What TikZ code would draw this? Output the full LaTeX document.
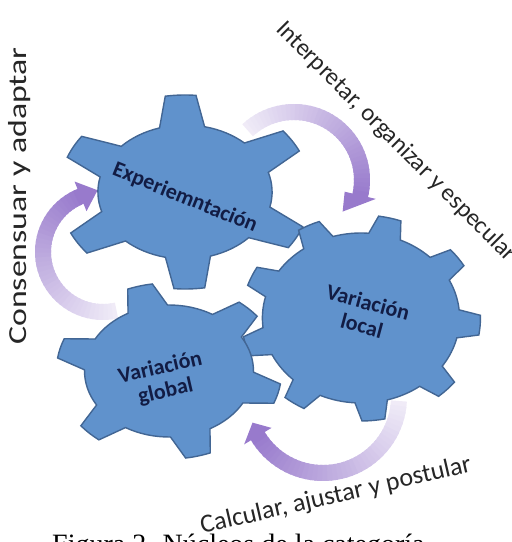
\documentclass[tikz,border=0pt]{standalone}
\usepackage{fontspec}
\setsansfont{Carlito}
\newfontfamily\captionfont{Liberation Serif}
\usepackage{xcolor}

\definecolor{gearblue}{RGB}{96,146,204}
\definecolor{gearedge}{RGB}{66,102,148}
\definecolor{geartext}{RGB}{18,28,68}
\definecolor{cycpurple}{RGB}{152,122,204}

% gear outline: teeth, inner radius, outer radius, base half-angle, tip half-angle
\newcommand{\gearpath}[5]{%
  ({-#4}:#2)
  \foreach \k in {1,...,#1}{%
    -- ({(\k-1)*360/#1-#5}:#3)
    arc[start angle={(\k-1)*360/#1-#5}, end angle={(\k-1)*360/#1+#5}, radius=#3]
    -- ({(\k-1)*360/#1+#4}:#2)
    arc[start angle={(\k-1)*360/#1+#4}, end angle={\k*360/#1-#4}, radius=#2]
  } -- cycle}

% curved arrow fading in: centre, radius, start, end, tip angle, tip radius
\newcommand{\cycarrow}[6]{%
  \foreach \i in {0,...,39}{%
    \pgfmathsetmacro{\cyca}{#3+(#4-#3)*\i/40}%
    \pgfmathsetmacro{\cycb}{#3+(#4-#3)*(\i+1.5)/40}%
    \pgfmathtruncatemacro{\cycp}{15+85*\i/39}%
    \draw[cycband, draw=cycpurple!\cycp!white, shift={(#1)}]
      (\cyca:#2) arc[start angle=\cyca, end angle=\cycb, radius=#2];
  }
  \fill[cycpurple, shift={(#1)}] ({#4}:{#2-16}) -- ({#5}:{#6}) -- ({#4}:{#2+16}) -- cycle;
}

\begin{document}
\begin{tikzpicture}[
    x=1pt, y=1pt,
    gear/.style={fill=gearblue, draw=gearedge, line width=1.4pt, line join=miter},
    geartitle/.style={font=\sffamily\bfseries\fontsize{22}{24}\selectfont, text=geartext, align=center},
    cyclabel/.style={font=\sffamily\fontsize{26}{28}\selectfont, text=black!85},
    cycband/.style={line width=16pt}
]
\useasboundingbox (0,0) rectangle (512,542);
\clip (0,0) rectangle (512,542);

% Gear centres
\coordinate (expc) at (185,350);
\coordinate (localc) at (361,224);
\coordinate (globalc) at (169,171);

% Cycle arrows
\coordinate (arrtop) at (294,362);
\coordinate (arrleft) at (103,290);
\coordinate (arrbot) at (323,145);
\cycarrow{arrtop}{68}{133}{-13}{-33}{58}
\cycarrow{arrleft}{60}{-77}{-248}{-265}{62}
\cycarrow{arrbot}{76}{-3}{-149}{-160}{75}

% Gears
\draw[gear, shift={(expc)}, xscale=1.3, rotate=92] \gearpath{6}{67}{97}{15}{7};
\draw[gear, shift={(localc)}, xscale=1.16, rotate=-4] \gearpath{9}{85}{103}{9.5}{5.5};
\draw[gear, shift={(globalc)}, xscale=1.28, rotate=105] \gearpath{6}{66}{88}{14}{6.5};

% Gear titles
\node[geartitle, rotate=-22] (exptext) at (185,344) {Experiemntación};
\node[geartitle, rotate=-15] (localtext) at (365,228) {Variación\\local};
\node[geartitle, rotate=13] (globaltext) at (163,162) {Variación\\global};

% Labels
\node[cyclabel, rotate=-45, font=\sffamily\fontsize{24.5}{26}\selectfont] (interp) at (396,400) {Interpretar, organizar y especular};
\node[cyclabel, rotate=90, xscale=1.3] (consens) at (20,346) {Consensuar y adaptar};
\node[cyclabel, rotate=13] (calc) at (336,46) {Calcular, ajustar y postular};

% Caption (cut off at the bottom)
\node[font=\captionfont\fontsize{28}{30}\selectfont, anchor=base west, inner sep=0pt] (caption) at (52,-12) {Figura 2. Núcleos de la categoría};

\end{tikzpicture}
\end{document}
